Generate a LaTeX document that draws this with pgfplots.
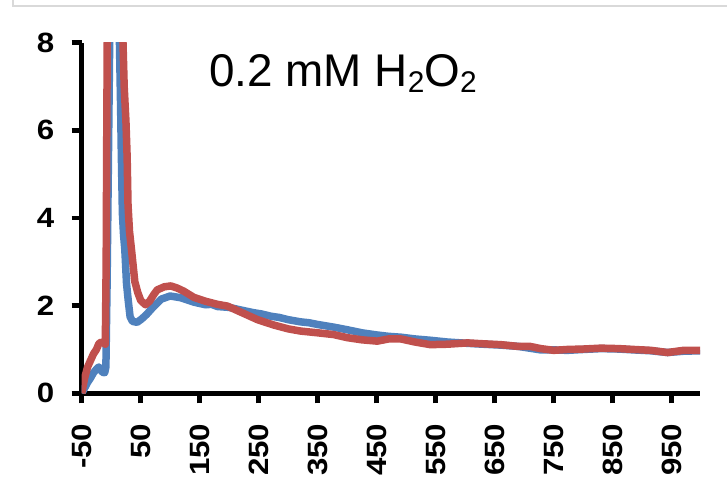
\documentclass[border=0pt]{standalone}
\usepackage{pgfplots}
\pgfplotsset{compat=1.18}
\usepackage{fontspec}
\setmainfont{Liberation Sans}
\definecolor{xlblue}{HTML}{4F81BD}
\definecolor{xlred}{HTML}{C0504D}
\definecolor{framegray}{HTML}{D9D9D9}
\begin{document}
\begin{tikzpicture}[x=1bp,y=1bp]
\useasboundingbox (0,0) rectangle (727,489);
\draw[framegray, line width=1.5bp] (13,489) -- (13,483) -- (727,483);
\begin{axis}[
  at={(81.7bp,95.7bp)}, anchor=south west,
  scale only axis,
  width=618.3bp, height=350.6bp,
  xmin=-50, xmax=998, ymin=0, ymax=8,
  xtick={-50,50,...,950},
  ytick={0,2,4,6,8},
  axis x line*=bottom, axis y line*=left,
  axis line style={line width=4.5bp, -},
  xtick align=outside, ytick align=outside,
  major tick length=10bp,
  major tick style={draw=black, line width=4.5bp},
  /pgf/number format/assume math mode=true,
  /pgf/number format/1000 sep={},
  ticklabel style={font=\fontsize{28}{29}\selectfont\bfseries},
  xticklabel={\scalebox{1.12}[1]{\pgfmathprintnumber{\tick}}},
  yticklabel={\scalebox{1.12}[1]{\pgfmathprintnumber{\tick}}},
  xticklabel style={rotate=90, anchor=east},
  xticklabel shift={17bp},
  yticklabel shift={14bp},
  clip=true,
]
\addplot[xlblue, line width=7.5bp, line join=round] coordinates {
(-50,0.0) (-45,0.12) (-40,0.25) (-35,0.35) (-30,0.47) (-25,0.55) (-21,0.6)
(-18,0.55) (-15,0.48) (-11,0.47) (-9,0.6) (-7,2.5) (-5,5) (-3,7.5) (-1,10)
(3,14) (8,15) (12,11) (14,8) (16,6.5) (17,5.6) (19,4.1) (21,3.6) (23,3.3)
(26,2.5) (29,2.1) (32,1.75) (36,1.64) (44,1.62) (52,1.7) (60,1.8) (72,1.98)
(85,2.15) (100,2.22) (118,2.18) (140,2.08) (160,2.02) (170,2.03) (180,1.98) (200,1.96)
(220,1.9) (241,1.84) (255,1.81) (270,1.76) (285,1.73) (300,1.68) (321,1.63) (335,1.61) (350,1.57) (377,1.51)
(400,1.45) (425,1.38) (451,1.33) (470,1.30) (491,1.28) (515,1.24) (541,1.21)
(570,1.17) (604,1.14) (630,1.12) (660,1.10) (690,1.07) (728,0.99) (750,0.99)
(773,0.98) (800,1.0) (830,1.02) (860,1.01) (886,0.99) (915,0.97) (943,0.93)
(970,0.96) (998,0.97)
};
\addplot[xlred, line width=7.5bp, line join=round] coordinates {
(-50,0) (-45,0.35) (-40,0.6) (-35,0.75) (-30,0.9) (-25,1.0) (-21,1.13)
(-17,1.17) (-13,1.15) (-10,1.12) (-8.5,3) (-7.5,6) (-6.5,8.5) (-5,12) (3,15)
(14,12) (19,8.5) (22,7) (25,6.2) (27,5.4) (28.5,4.3) (31,3.7) (35,3.2) (40,2.55)
(45,2.3) (50,2.12) (58,2.02) (65,2.1) (72,2.25) (78,2.36) (90,2.43) (101,2.45)
(112,2.4) (123,2.33) (140,2.19) (160,2.1) (180,2.03) (197,1.99) (220,1.85)
(248,1.68) (275,1.56) (300,1.47) (321,1.42) (350,1.38) (377,1.34) (400,1.27)
(425,1.22) (451,1.19) (470,1.24) (491,1.24) (515,1.17) (541,1.11) (570,1.12)
(604,1.15) (630,1.13) (660,1.11) (690,1.07) (710,1.07) (728,1.02) (750,0.98)
(773,1.00) (800,1.01) (830,1.03) (860,1.02) (886,1.0) (915,0.98) (943,0.93)
(970,0.98) (998,0.98)
};
\end{axis}
\node[anchor=base, inner sep=0pt, font=\fontsize{46}{50}\selectfont] at (343,402)
  {0.2 mM H\raisebox{-6bp}{\fontsize{30}{31}\selectfont 2}O\raisebox{-6bp}{\fontsize{30}{31}\selectfont 2}};
\end{tikzpicture}
\end{document}
